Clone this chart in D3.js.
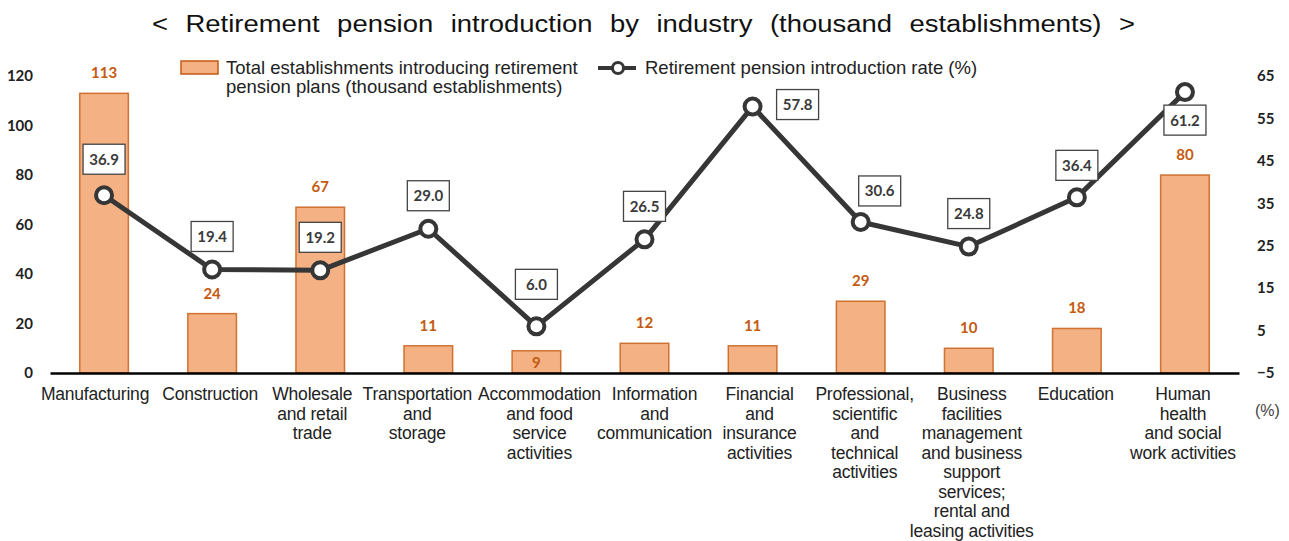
<!DOCTYPE html>
<html>
<head>
<meta charset="utf-8">
<script src="https://cdn.jsdelivr.net/npm/d3@7"></script>
<style>
  html, body { margin: 0; padding: 0; background: #fff; }
  svg { display: block; }
</style>
</head>
<body>
<svg id="chart" width="1289" height="541"></svg>
<script>
// Industry categories (each entry is the wrapped label lines)
const categories = [
  ["Manufacturing"],
  ["Construction"],
  ["Wholesale", "and retail", "trade"],
  ["Transportation", "and", "storage"],
  ["Accommodation", "and food", "service", "activities"],
  ["Information", "and", "communication"],
  ["Financial", "and", "insurance", "activities"],
  ["Professional,", "scientific", "and", "technical", "activities"],
  ["Business", "facilities", "management", "and business", "support", "services;", "rental and", "leasing activities"],
  ["Education"],
  ["Human", "health", "and social", "work activities"]
];

// Establishments that introduced retirement pension plans (thousand)
const establishments = [113, 24, 67, 11, 9, 12, 11, 29, 10, 18, 80];

// Retirement pension introduction rate (%)
const rates = [36.9, 19.4, 19.2, 29.0, 6.0, 26.5, 57.8, 30.6, 24.8, 36.4, 61.2];

// Axis ticks
const leftTicks = [0, 20, 40, 60, 80, 100, 120];
const rightTicks = [-5, 5, 15, 25, 35, 45, 55, 65];

const titleText = "< Retirement pension introduction by industry (thousand establishments) >";
const legendBarText = ["Total establishments introducing retirement", "pension plans (thousand establishments)"];
const legendLineText = "Retirement pension introduction rate (%)";

// Layout tweaks for label placement
const rateLabelOffset = [[0, -36], [0, -33], [0, -33], [0, -33], [0, -42], [0, -33], [45, -2], [19, -31], [0, -33], [0, -32], [0, 28]];
const barLabelInside = [false, false, false, false, true, false, false, false, false, false, false];
const catLabelShift = [-9, -2, -8, -11, 3, 10, 7, 4, 3, -1, -2];

const svg = d3.select("#chart");
const ids = categories.map((_, i) => i);

const x = d3.scaleBand().domain(ids).range([50, 1239]).padding(0);
const yL = d3.scaleLinear().domain([0, 120]).range([373, 76]);
const yR = d3.scaleLinear().domain([-5, 65]).range([373, 76]);

const ORANGE_FILL = "#F4B183";
const ORANGE_DARK = "#C55A11";
const DARK = "#363636";
const numFont = "Lato, 'Open Sans', sans-serif";
const textFont = "'Liberation Sans', Arial, sans-serif";

// Title: slightly widened glyphs, spread to its full width
const titleScale = 1.12;
const title = svg.append("text")
  .attr("transform", `translate(152,32) scale(${titleScale},1)`)
  .attr("font-family", textFont)
  .attr("font-size", 24.5)
  .attr("fill", "#111")
  .text(titleText);
{
  const w = title.node().getComputedTextLength();
  const spaces = titleText.split(" ").length - 1;
  const extra = (983 / titleScale - w) / spaces;
  if (extra > 0) title.attr("word-spacing", extra);
}

// Left axis
const leftAxis = svg.append("g")
  .attr("transform", "translate(36,0)")
  .call(d3.axisLeft(yL).tickValues(leftTicks).tickSize(0).tickPadding(3));
leftAxis.select(".domain").remove();
leftAxis.selectAll("text")
  .attr("font-family", numFont).attr("font-weight", 700)
  .attr("font-size", 15).attr("fill", "#222");

// Right axis
const rightAxis = svg.append("g")
  .attr("transform", "translate(1254,0)")
  .call(d3.axisRight(yR).tickValues(rightTicks).tickSize(0).tickPadding(3));
rightAxis.select(".domain").remove();
rightAxis.selectAll("text")
  .attr("font-family", numFont).attr("font-weight", 700)
  .attr("font-size", 15).attr("fill", "#222");

svg.append("text")
  .attr("x", 1255).attr("y", 416)
  .attr("font-family", textFont).attr("font-size", 16).attr("fill", "#444")
  .text("(%)");

// Bars
const barW = x.bandwidth() * 0.45;
svg.append("g").selectAll("rect")
  .data(establishments)
  .join("rect")
  .attr("x", (d, i) => x(i) + x.bandwidth() / 2 - barW / 2)
  .attr("y", d => yL(d))
  .attr("width", barW)
  .attr("height", d => yL(0) - yL(d))
  .attr("fill", ORANGE_FILL)
  .attr("stroke", ORANGE_DARK)
  .attr("stroke-opacity", 0.8)
  .attr("stroke-width", 1.5);

// Bar value labels
svg.append("g").selectAll("text")
  .data(establishments)
  .join("text")
  .attr("x", (d, i) => x(i) + x.bandwidth() / 2)
  .attr("y", (d, i) => barLabelInside[i] ? yL(d) + 17 : yL(d) - 15)
  .attr("text-anchor", "middle")
  .attr("font-family", numFont).attr("font-weight", 700)
  .attr("font-size", 15).attr("fill", ORANGE_DARK)
  .text(d => d);

// X axis baseline and category labels
const xAxis = svg.append("g")
  .attr("transform", `translate(0,${yL(0)})`)
  .call(d3.axisBottom(x).tickSize(0).tickSizeOuter(0).tickFormat(() => ""));
xAxis.select(".domain").attr("stroke", "#000").attr("stroke-width", 2.5);

const catG = svg.append("g")
  .attr("font-family", textFont).attr("font-size", 17.5)
  .attr("fill", "#222").attr("text-anchor", "middle")
  .attr("letter-spacing", -0.2);
categories.forEach((lines, i) => {
  const cx = x(i) + x.bandwidth() / 2 + catLabelShift[i];
  const t = catG.append("text").attr("x", cx).attr("y", 400);
  lines.forEach((ln, j) => {
    t.append("tspan")
      .attr("x", cx)
      .attr("dy", j === 0 ? 0 : 19.5)
      .text(ln);
  });
});

// Rate line
const line = d3.line()
  .x((d, i) => x(i) + x.bandwidth() / 2)
  .y(d => yR(d));
svg.append("path")
  .datum(rates)
  .attr("d", line)
  .attr("fill", "none")
  .attr("stroke", DARK)
  .attr("stroke-width", 5)
  .attr("stroke-linejoin", "round");

svg.append("g").selectAll("circle")
  .data(rates)
  .join("circle")
  .attr("cx", (d, i) => x(i) + x.bandwidth() / 2)
  .attr("cy", d => yR(d))
  .attr("r", 8)
  .attr("fill", "#fff")
  .attr("stroke", DARK)
  .attr("stroke-width", 4);

// Rate value boxes
const boxW = 42, boxH = 30;
const rateLabels = svg.append("g").selectAll("g")
  .data(rates)
  .join("g")
  .attr("transform", (d, i) => {
    const cx = x(i) + x.bandwidth() / 2 + rateLabelOffset[i][0];
    const cy = yR(d) + rateLabelOffset[i][1];
    return `translate(${cx},${cy})`;
  });
rateLabels.append("rect")
  .attr("x", -boxW / 2).attr("y", -boxH / 2)
  .attr("width", boxW).attr("height", boxH)
  .attr("fill", "#fff").attr("stroke", "#444").attr("stroke-width", 1.3);
rateLabels.append("text")
  .attr("text-anchor", "middle").attr("dy", 5.5)
  .attr("font-family", numFont).attr("font-weight", 700)
  .attr("font-size", 15).attr("fill", "#3a3a3a")
  .text(d => d.toFixed(1));

// Legend
const legend = svg.append("g");
legend.append("rect")
  .attr("x", 181).attr("y", 61).attr("width", 37).attr("height", 13)
  .attr("fill", ORANGE_FILL).attr("stroke", ORANGE_DARK).attr("stroke-width", 1.5);
const lt = legend.append("text")
  .attr("font-family", textFont).attr("font-size", 18.5).attr("fill", "#222");
legendBarText.forEach((s, j) => {
  lt.append("tspan").attr("x", 226).attr("y", 74 + j * 19).text(s);
});
legend.append("line")
  .attr("x1", 598).attr("x2", 636).attr("y1", 68).attr("y2", 68)
  .attr("stroke", DARK).attr("stroke-width", 4);
legend.append("circle")
  .attr("cx", 618).attr("cy", 68).attr("r", 5.5)
  .attr("fill", "#fff").attr("stroke", DARK).attr("stroke-width", 3);
legend.append("text")
  .attr("x", 645).attr("y", 74)
  .attr("font-family", textFont).attr("font-size", 18.5).attr("fill", "#222")
  .text(legendLineText);
</script>
</body>
</html>
